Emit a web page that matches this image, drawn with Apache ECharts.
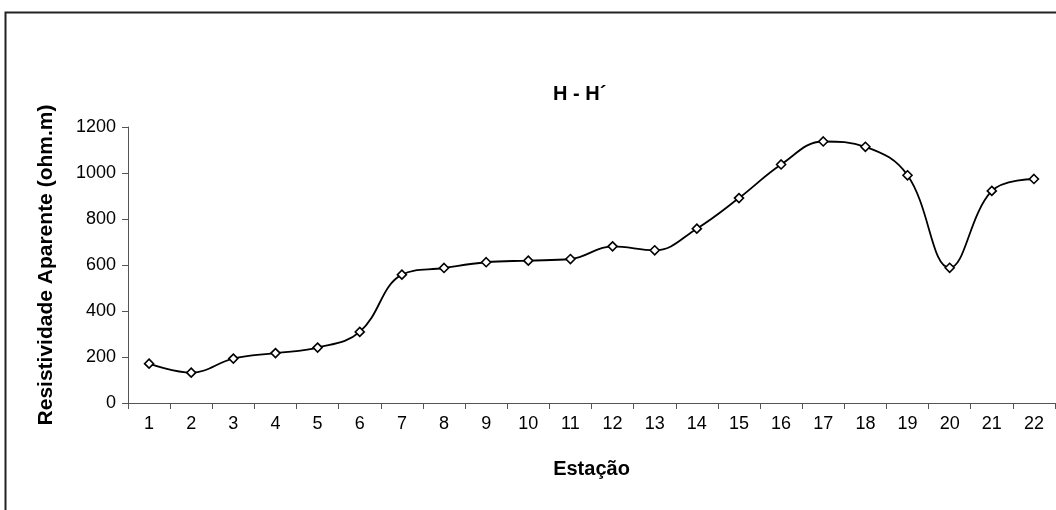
<!DOCTYPE html>
<html>
<head>
<meta charset="utf-8">
<script src="https://cdn.jsdelivr.net/npm/echarts@6/dist/echarts.min.js"></script>
<style>
html,body{margin:0;padding:0;background:#fff;}
#c{width:1056px;height:510px;}
</style>
</head>
<body>
<div id="c"></div>
<script>
const categories = ['1','2','3','4','5','6','7','8','9','10','11','12','13','14','15','16','17','18','19','20','21','22'];
const resistividade = [171,132,193,217,241,309,558,587,612,619,626,681,664,758,891,1037,1137,1114,990,588,922,974];
const chartTitle = 'H - H\u00B4';
const xTitle = 'Estação';
const yTitle = 'Resistividade Aparente (ohm.m)';

const chart = echarts.init(document.getElementById('c'), null, {renderer:'canvas'});
const FONT = 'Liberation Sans, Arial, sans-serif';
chart.setOption({
  backgroundColor:'#fff',
  animation:false,
  title:{
    text:chartTitle, left:548, top:79,
    textStyle:{fontFamily:FONT, fontWeight:'bold', fontSize:20, color:'#000'}
  },
  graphic:[{
    type:'rect', shape:{x:5.5, y:12.5, width:1100, height:600},
    style:{fill:'none', stroke:'#222', lineWidth:2}, silent:true, z:-1
  }],
  grid:{left:128, right:1, top:127, bottom:107, containLabel:false},
  xAxis:{
    type:'category', data:categories, boundaryGap:true,
    name:xTitle, nameLocation:'middle', nameGap:56,
    nameTextStyle:{fontFamily:FONT, fontWeight:'bold', fontSize:20, color:'#000'},
    axisLine:{lineStyle:{color:'#555', width:1}},
    axisTick:{show:true, length:6, lineStyle:{color:'#555'}},
    axisLabel:{fontFamily:FONT, fontSize:18, color:'#000', margin:12, interval:0},
    splitLine:{show:false}
  },
  yAxis:{
    type:'value', min:0, max:1200, interval:200,
    name:yTitle, nameLocation:'middle', nameGap:71,
    nameTextStyle:{fontFamily:FONT, fontWeight:'bold', fontSize:21, color:'#000'},
    axisLine:{show:true, lineStyle:{color:'#555', width:1}},
    axisTick:{show:true, length:6, lineStyle:{color:'#555'}},
    axisLabel:{fontFamily:FONT, fontSize:18, color:'#000', margin:12, formatter:function(v){return String(v);}},
    splitLine:{show:false}
  },
  series:[{
    type:'line', data:resistividade, smooth:0.4,
    symbol:'diamond', symbolSize:9, showSymbol:true,
    lineStyle:{color:'#000', width:1.8},
    itemStyle:{color:'#fff', borderColor:'#000', borderWidth:1.6},
    z:3
  }]
});
</script>
</body>
</html>
